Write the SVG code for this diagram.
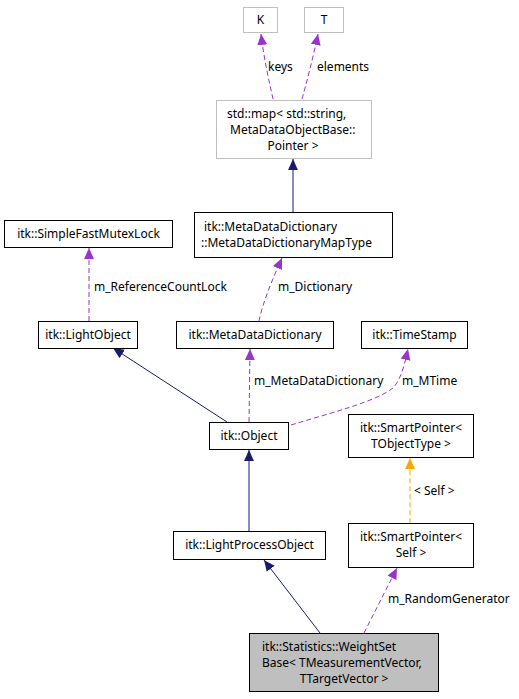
<svg xmlns="http://www.w3.org/2000/svg" width="519" height="699" viewBox="0 0 519 699">
<style>
text{font-family:"Noto Sans","DejaVu Sans",sans-serif;font-size:12px;fill:#000}
.c{text-anchor:middle}
.box{fill:#fff;stroke:#000;stroke-width:1}
.gbox{fill:#fff;stroke:#bfbfbf;stroke-width:1}
.cur{fill:#bfbfbf;stroke:#000;stroke-width:1}
.inh{fill:none;stroke:#191970;stroke-width:1}
.use{fill:none;stroke:#9a32cd;stroke-width:1;stroke-dasharray:5,3}
.tpl{fill:none;stroke:#ffa500;stroke-width:1;stroke-dasharray:5,3}
</style>
<defs>
<marker id="aInh" viewBox="0 0 10 10" refX="10" refY="5" markerWidth="11" markerHeight="11" markerUnits="userSpaceOnUse" orient="auto"><path d="M0,0.5 L10,5 L0,9.5 z" fill="#191970"/></marker>
<marker id="aUse" viewBox="0 0 10 10" refX="10" refY="5" markerWidth="11" markerHeight="11" markerUnits="userSpaceOnUse" orient="auto"><path d="M0,0.5 L10,5 L0,9.5 z" fill="#9a32cd"/></marker>
<marker id="aTpl" viewBox="0 0 10 10" refX="10" refY="5" markerWidth="11" markerHeight="11" markerUnits="userSpaceOnUse" orient="auto"><path d="M0,0.5 L10,5 L0,9.5 z" fill="#ffa500"/></marker>
</defs>
<rect width="519" height="699" fill="#fff"/>
<g id="connectors">
<path class="use" d="M273,99 C270,85 264,60 261,34" marker-end="url(#aUse)"/>
<text x="268" y="71">keys</text>
<path class="use" d="M302,99 C306,85 313,58 318,34" marker-end="url(#aUse)"/>
<text x="317" y="71">elements</text>
<path class="inh" d="M293,212 L293,159" marker-end="url(#aInh)"/>
<path class="use" d="M259,321 C262,305 272,280 282,258" marker-end="url(#aUse)"/>
<text x="278" y="291">m_Dictionary</text>
<path class="use" d="M89,321 L89,248" marker-end="url(#aUse)"/>
<text x="94" y="291">m_ReferenceCountLock</text>
<path class="inh" d="M227,422 L113,348" marker-end="url(#aInh)"/>
<path class="use" d="M249,422 L250,349" marker-end="url(#aUse)"/>
<text x="254" y="385">m_MetaDataDictionary</text>
<path class="use" d="M291,425 C330,413 375,402 393,388 C402,378 405,362 408,349" marker-end="url(#aUse)"/>
<text x="402" y="385">m_MTime</text>
<path class="inh" d="M249,531 L249,450" marker-end="url(#aInh)"/>
<path class="tpl" d="M410,523 L410,458" marker-end="url(#aTpl)"/>
<text x="414" y="495">&lt; Self &gt;</text>
<path class="inh" d="M320,633 L264,560" marker-end="url(#aInh)"/>
<path class="use" d="M364,633 L397,568" marker-end="url(#aUse)"/>
<text x="388" y="603">m_RandomGenerator</text>
</g>
<g id="node-K"><rect class="gbox" x="243.5" y="7.5" width="34" height="25"/><text class="c" x="260.5" y="24">K</text></g>
<g id="node-T"><rect class="gbox" x="304.5" y="7.5" width="39" height="25"/><text class="c" x="324" y="24">T</text></g>
<g id="node-stdmap"><rect class="gbox" x="216.5" y="100.5" width="155" height="58"/>
<text x="227" y="118">std::map&lt; std::string,</text>
<text x="230" y="134">MetaDataObjectBase::</text>
<text class="c" x="293" y="150">Pointer &gt;</text></g>
<g id="node-MapType"><rect class="box" x="194.5" y="212.5" width="198" height="45"/>
<text x="204" y="231">itk::MetaDataDictionary</text>
<text x="201" y="247">::MetaDataDictionaryMapType</text></g>
<g id="node-SimpleFastMutexLock"><rect class="box" x="4.5" y="220.5" width="168" height="27"/><text class="c" x="88.5" y="238">itk::SimpleFastMutexLock</text></g>
<g id="node-LightObject"><rect class="box" x="38.5" y="321.5" width="99" height="27"/><text class="c" x="88" y="339">itk::LightObject</text></g>
<g id="node-MetaDataDictionary"><rect class="box" x="176.5" y="321.5" width="157" height="27"/><text class="c" x="255" y="339">itk::MetaDataDictionary</text></g>
<g id="node-TimeStamp"><rect class="box" x="361.5" y="321.5" width="106" height="27"/><text class="c" x="414.5" y="339">itk::TimeStamp</text></g>
<g id="node-Object"><rect class="box" x="209.5" y="422.5" width="79" height="27"/><text class="c" x="249" y="440">itk::Object</text></g>
<g id="node-SmartPointerTObjectType"><rect class="box" x="348.5" y="414.5" width="125" height="43"/>
<text class="c" x="411" y="432">itk::SmartPointer&lt;</text>
<text class="c" x="411" y="448">TObjectType &gt;</text></g>
<g id="node-LightProcessObject"><rect class="box" x="173.5" y="531.5" width="152" height="28"/><text class="c" x="249.5" y="549">itk::LightProcessObject</text></g>
<g id="node-SmartPointerSelf"><rect class="box" x="348.5" y="523.5" width="125" height="44"/>
<text class="c" x="411" y="541">itk::SmartPointer&lt;</text>
<text class="c" x="411" y="557">Self &gt;</text></g>
<g id="node-WeightSetBase"><rect class="cur" x="249.5" y="633.5" width="189" height="58"/>
<text x="262" y="651">itk::Statistics::WeightSet</text>
<text x="262" y="667">Base&lt; TMeasurementVector,</text>
<text class="c" x="344" y="683">TTargetVector &gt;</text></g>
</svg>
